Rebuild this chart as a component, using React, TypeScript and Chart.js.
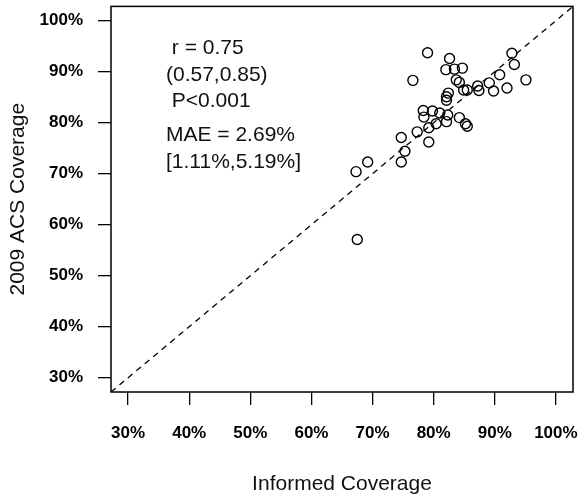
import React, { useEffect, useRef } from "react";
import { Chart, registerables } from "chart.js";

Chart.register(...registerables);

// Informed vs. ACS coverage, one point per area (percent)
const informedCoverage = [
  79.0, 82.6, 76.6, 82.0, 83.4, 84.7, 83.7, 84.2, 92.8, 93.2, 90.8, 89.1, 87.2, 87.4,
  89.8, 92.0, 84.9, 85.5, 82.4, 82.1, 82.1, 78.3, 79.8, 81.0, 78.4, 80.4, 82.3, 82.1,
  84.2, 85.2, 85.5, 79.2, 77.3, 79.2, 74.7, 75.3, 74.7, 69.2, 67.3, 67.5, 95.1,
];
const acsCoverage = [
  93.7, 92.6, 88.3, 90.4, 90.5, 90.7, 88.4, 87.9, 93.6, 91.4, 89.4, 87.8, 87.2, 86.3,
  86.2, 86.8, 86.4, 86.4, 85.8, 85.1, 84.4, 82.4, 82.3, 81.9, 81.1, 79.8, 81.5, 80.2,
  81.0, 79.8, 79.3, 79.0, 78.2, 76.2, 77.1, 74.4, 72.3, 72.3, 70.4, 57.1, 88.4,
];

const tickValues = [30, 40, 50, 60, 70, 80, 90, 100];
const axisMin = 27.2;
const axisMax = 102.8;

const statsLines = [" r = 0.75", "(0.57,0.85)", " P<0.001"];
const errorLines = ["MAE = 2.69%", "[1.11%,5.19%]"];

const FONT = "'Liberation Sans', Arial, Helvetica, sans-serif";

// Full frame around the plotting region plus the statistics text blocks
const framePlugin = {
  id: "frameAndNotes",
  afterDatasetsDraw(chart: any) {
    const { ctx, chartArea, scales } = chart;
    ctx.save();
    ctx.strokeStyle = "#000";
    ctx.lineWidth = 1.5;
    ctx.strokeRect(
      chartArea.left,
      chartArea.top,
      chartArea.right - chartArea.left,
      chartArea.bottom - chartArea.top
    );

    ctx.fillStyle = "#111";
    ctx.font = `21px ${FONT}`;
    ctx.textAlign = "left";
    ctx.textBaseline = "middle";
    const lineH = 26.5;
    const x0 = scales.x.getPixelForValue(36.2);
    const y1 = scales.y.getPixelForValue(94.6);
    statsLines.forEach((t, i) => ctx.fillText(t, x0, y1 + i * lineH));
    const y2 = scales.y.getPixelForValue(77.5);
    errorLines.forEach((t, i) => ctx.fillText(t, x0, y2 + i * lineH));
    ctx.restore();
  },
};

// Fixed axis band sizes, with no extra room reserved for overhanging labels
const fixBand = (size: number, horizontal: boolean) => (scale: any) => {
  if (horizontal) scale.height = size;
  else scale.width = size;
  scale.paddingTop = 0;
  scale.paddingBottom = 0;
  scale.paddingLeft = 0;
  scale.paddingRight = 0;
};

export default function App() {
  const canvasRef = useRef<HTMLCanvasElement | null>(null);

  useEffect(() => {
    if (!canvasRef.current) return;
    const points = informedCoverage.map((x, i) => ({ x, y: acsCoverage[i] }));

    const tickFont = { family: FONT, size: 17, weight: "bold" as const };
    const titleFont = { family: FONT, size: 21 };

    const chart = new Chart(canvasRef.current, {
      type: "scatter",
      data: {
        datasets: [
          {
            type: "line",
            label: "identity",
            data: [
              { x: axisMin, y: axisMin },
              { x: axisMax, y: axisMax },
            ],
            borderColor: "#000",
            borderWidth: 1.3,
            borderDash: [6, 5],
            pointRadius: 0,
            fill: false,
          },
          {
            label: "areas",
            data: points,
            pointStyle: "circle",
            pointRadius: 5,
            pointBorderColor: "#000",
            pointBorderWidth: 1.4,
            pointBackgroundColor: "rgba(0,0,0,0)",
          },
        ],
      },
      options: {
        animation: false,
        responsive: false,
        devicePixelRatio: 1,
        layout: { padding: { top: 6, right: 7, left: 0, bottom: 0 } },
        plugins: {
          legend: { display: false },
          tooltip: { enabled: false },
        },
        scales: {
          x: {
            type: "linear",
            min: axisMin,
            max: axisMax,
            afterBuildTicks: (scale: any) => {
              scale.ticks = tickValues.map((v) => ({ value: v }));
            },
            afterFit: fixBand(106, true),
            ticks: {
              color: "#000",
              font: tickFont,
              padding: 18,
              maxRotation: 0,
              autoSkip: false,
              callback: (v: any) => `${v}%`,
            },
            grid: {
              drawOnChartArea: false,
              drawTicks: true,
              tickLength: 13,
              color: "#000",
              lineWidth: 1.3,
            },
            border: { display: false },
            title: {
              display: true,
              text: "Informed Coverage",
              color: "#111",
              font: titleFont,
              padding: { top: 0, bottom: 1.4 },
            },
          },
          y: {
            type: "linear",
            min: axisMin,
            max: axisMax,
            afterBuildTicks: (scale: any) => {
              scale.ticks = tickValues.map((v) => ({ value: v }));
            },
            afterFit: fixBand(111, false),
            ticks: {
              color: "#000",
              font: tickFont,
              padding: 15,
              autoSkip: false,
              callback: (v: any) => `${v}%`,
            },
            grid: {
              drawOnChartArea: false,
              drawTicks: true,
              tickLength: 13,
              color: "#000",
              lineWidth: 1.3,
            },
            border: { display: false },
            title: {
              display: true,
              text: "2009 ACS Coverage",
              color: "#111",
              font: titleFont,
              padding: { top: 6, bottom: 0 },
            },
          },
        },
      },
      plugins: [framePlugin],
    });

    return () => chart.destroy();
  }, []);

  return (
    <div style={{ position: "fixed", left: 0, top: 0, width: 580, height: 498, background: "#fff" }}>
      <canvas ref={canvasRef} width={580} height={498} style={{ width: 580, height: 498, display: "block" }} />
    </div>
  );
}
